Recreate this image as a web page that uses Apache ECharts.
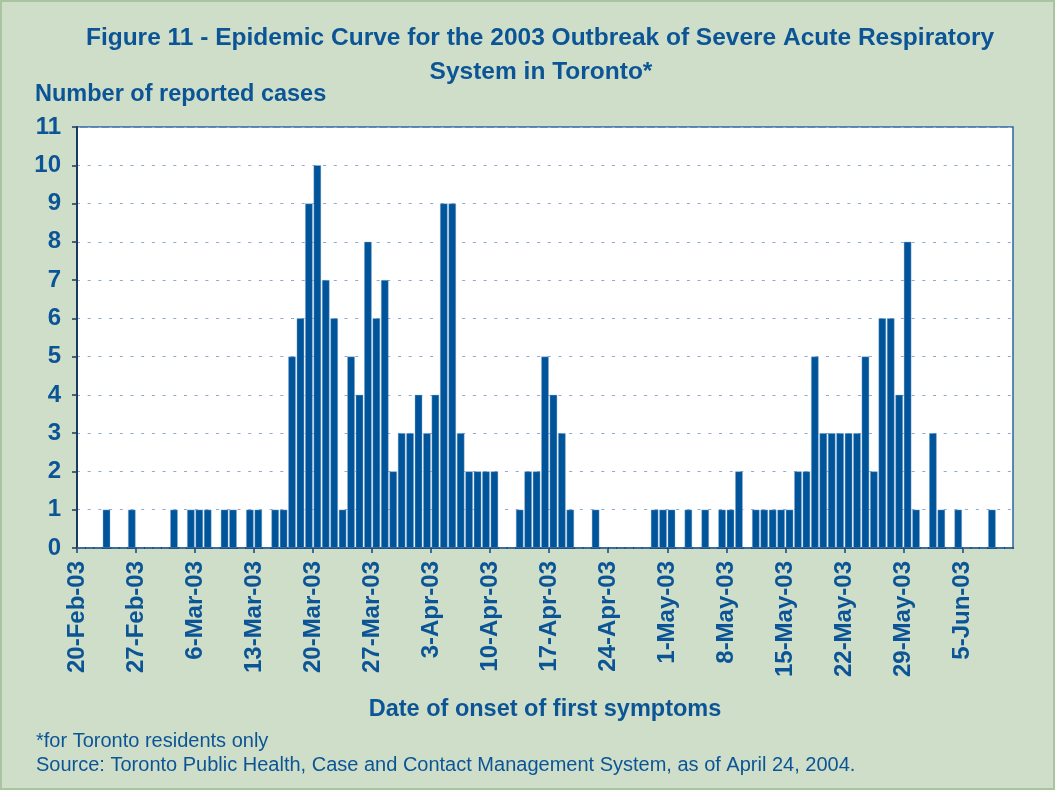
<!DOCTYPE html>
<html>
<head>
<meta charset="utf-8">
<script src="https://cdn.jsdelivr.net/npm/echarts@6/dist/echarts.min.js"></script>
<style>
html,body{margin:0;padding:0;background:#cfdec8;}
#chart{width:1055px;height:790px;}
</style>
</head>
<body>
<div id="chart"></div>
<script>
// Days of onset (one category per day, 20-Feb-03 .. 10-Jun-03)
const categories = [
 '20-Feb','21-Feb','22-Feb','23-Feb','24-Feb','25-Feb','26-Feb','27-Feb','28-Feb',
 '1-Mar','2-Mar','3-Mar','4-Mar','5-Mar','6-Mar','7-Mar','8-Mar','9-Mar','10-Mar','11-Mar','12-Mar','13-Mar','14-Mar','15-Mar','16-Mar','17-Mar','18-Mar','19-Mar','20-Mar','21-Mar','22-Mar','23-Mar','24-Mar','25-Mar','26-Mar','27-Mar','28-Mar','29-Mar','30-Mar','31-Mar',
 '1-Apr','2-Apr','3-Apr','4-Apr','5-Apr','6-Apr','7-Apr','8-Apr','9-Apr','10-Apr','11-Apr','12-Apr','13-Apr','14-Apr','15-Apr','16-Apr','17-Apr','18-Apr','19-Apr','20-Apr','21-Apr','22-Apr','23-Apr','24-Apr','25-Apr','26-Apr','27-Apr','28-Apr','29-Apr','30-Apr',
 '1-May','2-May','3-May','4-May','5-May','6-May','7-May','8-May','9-May','10-May','11-May','12-May','13-May','14-May','15-May','16-May','17-May','18-May','19-May','20-May','21-May','22-May','23-May','24-May','25-May','26-May','27-May','28-May','29-May','30-May','31-May',
 '1-Jun','2-Jun','3-Jun','4-Jun','5-Jun','6-Jun','7-Jun','8-Jun','9-Jun','10-Jun'
];
// Number of reported cases per day
const cases = [
 0,0,0,1,0,0,1,0,0,
 0,0,1,0,1,1,1,0,1,1,0,1,1,0,1,1,5,6,9,10,7,6,1,5,4,8,6,7,2,3,3,
 4,3,4,9,9,3,2,2,2,2,0,0,1,2,2,5,4,3,1,0,0,1,0,0,0,0,0,0,1,1,
 1,0,1,0,1,0,1,1,2,0,1,1,1,1,1,2,2,5,3,3,3,3,3,5,2,6,6,4,8,1,0,
 3,1,0,1,0,0,0,1,0,0
];
// Weekly tick labels (every 7 days from 20-Feb-03)
const tickLabels = ['20-Feb-03','27-Feb-03','6-Mar-03','13-Mar-03','20-Mar-03','27-Mar-03','3-Apr-03','10-Apr-03','17-Apr-03','24-Apr-03','1-May-03','8-May-03','15-May-03','22-May-03','29-May-03','5-Jun-03'];
const yTicks = [0,1,2,3,4,5,6,7,8,9,10,11];

const blue = '#0b5596';
const font = '"Liberation Sans", Arial, sans-serif';

const chart = echarts.init(document.getElementById('chart'));
chart.setOption({
  backgroundColor: '#cfdec8',
  animation: false,
  textStyle: { fontFamily: font },
  grid: { left: 77, right: 42, top: 127, bottom: 242, show: true, backgroundColor: '#ffffff', borderColor: '#2a66a3', borderWidth: 1.5 },
  xAxis: [
    {
      type: 'category', data: categories, boundaryGap: true,
      axisLine: { show: true, lineStyle: { color: '#14477a', width: 2 } },
      axisTick: { show: false }, axisLabel: { show: false }, splitLine: { show: false }
    },
    {
      type: 'value', position: 'bottom', min: 0, max: categories.length, interval: 7,
      axisLine: { show: false }, splitLine: { show: false },
      axisTick: { show: true, inside: false, length: 5, lineStyle: { color: '#14477a', width: 1.5 } },
      axisLabel: {
        rotate: 90, margin: 13, color: blue, fontWeight: 'bold', fontSize: 24, fontFamily: font,
        showMaxLabel: false,
        formatter: v => (v % 7 === 0 && tickLabels[v / 7]) ? tickLabels[v / 7] : ''
      }
    }
  ],
  yAxis: {
    type: 'value', min: yTicks[0], max: yTicks[yTicks.length - 1], interval: 1,
    axisLine: { show: true, lineStyle: { color: '#1b3a5c', width: 2 } },
    axisTick: { show: true, inside: false, length: 5, lineStyle: { color: '#1b3a5c', width: 1.5 } },
    axisLabel: { color: blue, fontWeight: 'bold', fontSize: 24, margin: 16, fontFamily: font },
    splitLine: { show: true, lineStyle: { color: '#8ea8d8', type: [3, 7.7], width: 1 } }
  },
  series: [{
    type: 'bar', xAxisIndex: 0, yAxisIndex: 0, data: cases,
    barCategoryGap: '12%',
    itemStyle: { color: '#00559a', borderColor: '#8fb0d4', borderWidth: 0.4 }
  }],
  graphic: [
    { type: 'rect', shape: { x: 1, y: 1, width: 1053, height: 788 }, style: { fill: 'none', stroke: '#a9c49f', lineWidth: 2 }, silent: true },
    { type: 'text', x: 540, y: 38, style: { text: 'Figure 11 - Epidemic Curve for the 2003 Outbreak of Severe Acute Respiratory', font: 'bold 24.5px ' + font, fill: blue, textAlign: 'center', textVerticalAlign: 'middle' } },
    { type: 'text', x: 541, y: 72, style: { text: 'System in Toronto*', font: 'bold 24.5px ' + font, fill: blue, textAlign: 'center', textVerticalAlign: 'middle' } },
    { type: 'text', x: 35, y: 95, style: { text: 'Number of reported cases', font: 'bold 23.5px ' + font, fill: blue, textAlign: 'left', textVerticalAlign: 'middle' } },
    { type: 'text', x: 545, y: 710, style: { text: 'Date of onset of first symptoms', font: 'bold 23.5px ' + font, fill: blue, textAlign: 'center', textVerticalAlign: 'middle' } },
    { type: 'text', x: 36, y: 741, style: { text: '*for Toronto residents only', font: '20px ' + font, fill: blue, textAlign: 'left', textVerticalAlign: 'middle' } },
    { type: 'text', x: 36, y: 765, style: { text: 'Source: Toronto Public Health, Case and Contact Management System, as of April 24, 2004.', font: '20px ' + font, fill: blue, textAlign: 'left', textVerticalAlign: 'middle' } }
  ]
});
</script>
</body>
</html>
